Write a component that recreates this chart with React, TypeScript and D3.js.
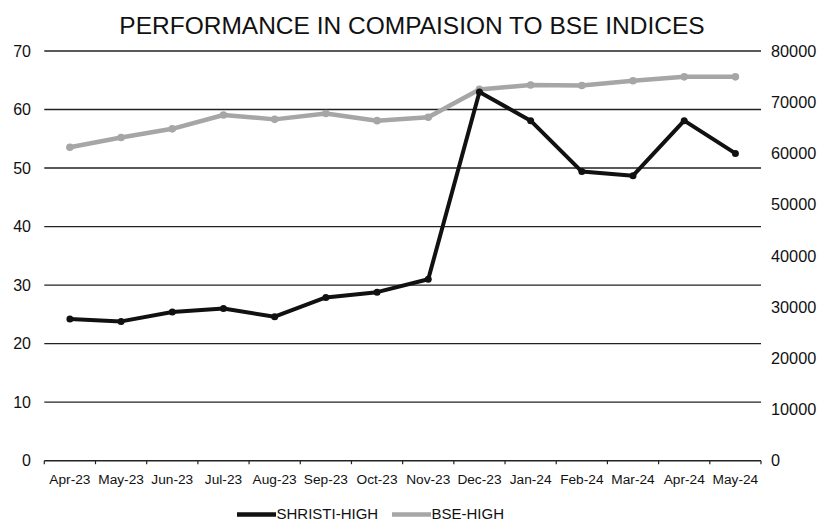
import React, { useRef, useEffect } from "react";
import * as d3 from "d3";

// chart data
const months = [
  "Apr-23", "May-23", "Jun-23", "Jul-23", "Aug-23", "Sep-23", "Oct-23",
  "Nov-23", "Dec-23", "Jan-24", "Feb-24", "Mar-24", "Apr-24", "May-24",
];
const shristiHigh = [24.2, 23.8, 25.4, 26.0, 24.6, 27.9, 28.8, 31.0, 63.0, 58.1, 49.4, 48.7, 58.1, 52.5];
const bseHigh = [61200, 63100, 64800, 67500, 66650, 67800, 66400, 67050, 72500, 73350, 73250, 74200, 74950, 74950];
const leftTicks = [0, 10, 20, 30, 40, 50, 60, 70];
const rightTicks = [0, 10000, 20000, 30000, 40000, 50000, 60000, 70000, 80000];

const W = 822;
const H = 521;
const font = "'Liberation Sans', Arial, sans-serif";

export default function App() {
  const svgRef = useRef<SVGSVGElement>(null);

  useEffect(() => {
    const svg = d3.select(svgRef.current);
    svg.selectAll("*").remove();

    const left = 44.3, right = 761, top = 51, bottom = 460.7;

    const x = d3.scaleBand().domain(months).range([left, right]);
    const yL = d3.scaleLinear().domain([0, 70]).range([bottom, top]);
    const yR = d3.scaleLinear().domain([0, 80000]).range([bottom, top]);

    svg.append("rect").attr("width", W).attr("height", H).attr("fill", "#fff");

    // title
    svg.append("text")
      .attr("x", 412).attr("y", 34)
      .attr("text-anchor", "middle")
      .attr("font-family", font).attr("font-size", 24.5)
      .attr("fill", "#111")
      .text("PERFORMANCE IN COMPAISION TO BSE INDICES");

    // gridlines
    svg.append("g").selectAll("line")
      .data(leftTicks.filter((t) => t > 0))
      .join("line")
      .attr("x1", left).attr("x2", right)
      .attr("y1", (d) => yL(d)).attr("y2", (d) => yL(d))
      .attr("stroke", "#222").attr("stroke-width", 1.4);

    // x axis
    svg.append("line")
      .attr("x1", left).attr("x2", right)
      .attr("y1", bottom).attr("y2", bottom)
      .attr("stroke", "#222").attr("stroke-width", 1.6);
    const tickX = months.map((m) => x(m)!).concat([right]);
    svg.append("g").selectAll("line")
      .data(tickX)
      .join("line")
      .attr("x1", (d) => d).attr("x2", (d) => d)
      .attr("y1", bottom).attr("y2", bottom + 3.5)
      .attr("stroke", "#222").attr("stroke-width", 1.2);

    svg.append("g").selectAll("text")
      .data(months)
      .join("text")
      .attr("x", (d) => x(d)! + x.bandwidth() / 2)
      .attr("y", 484)
      .attr("text-anchor", "middle")
      .attr("font-family", font).attr("font-size", 13.7)
      .attr("fill", "#111")
      .text((d) => d);

    // left axis labels
    svg.append("g").selectAll("text")
      .data(leftTicks)
      .join("text")
      .attr("x", 31).attr("y", (d) => yL(d))
      .attr("dy", "0.35em")
      .attr("text-anchor", "end")
      .attr("font-family", font).attr("font-size", 16)
      .attr("fill", "#111")
      .text((d) => d);

    // right axis labels
    svg.append("g").selectAll("text")
      .data(rightTicks)
      .join("text")
      .attr("x", 771).attr("y", (d) => yR(d))
      .attr("dy", "0.35em")
      .attr("text-anchor", "start")
      .attr("font-family", font).attr("font-size", 16.3)
      .attr("fill", "#111")
      .text((d) => d);

    const cx = (i: number) => x(months[i])! + x.bandwidth() / 2;

    // BSE line (right axis)
    const bseLine = d3.line<number>().x((_, i) => cx(i)).y((d) => yR(d));
    svg.append("path")
      .attr("d", bseLine(bseHigh)!)
      .attr("fill", "none")
      .attr("stroke", "#a6a6a6").attr("stroke-width", 4.5)
      .attr("stroke-linejoin", "round");
    svg.append("g").selectAll("circle")
      .data(bseHigh)
      .join("circle")
      .attr("cx", (_, i) => cx(i)).attr("cy", (d) => yR(d))
      .attr("r", 3.8).attr("fill", "#a6a6a6");

    // SHRISTI line (left axis)
    const shLine = d3.line<number>().x((_, i) => cx(i)).y((d) => yL(d));
    svg.append("path")
      .attr("d", shLine(shristiHigh)!)
      .attr("fill", "none")
      .attr("stroke", "#111").attr("stroke-width", 4)
      .attr("stroke-linejoin", "round");
    svg.append("g").selectAll("circle")
      .data(shristiHigh)
      .join("circle")
      .attr("cx", (_, i) => cx(i)).attr("cy", (d) => yL(d))
      .attr("r", 3.5).attr("fill", "#111");

    // legend
    const legend = [
      { name: "SHRISTI-HIGH", color: "#111", x0: 237 },
      { name: "BSE-HIGH", color: "#a6a6a6", x0: 392 },
    ];
    const lg = svg.append("g").selectAll("g").data(legend).join("g");
    lg.append("line")
      .attr("x1", (d) => d.x0).attr("x2", (d) => d.x0 + 39)
      .attr("y1", 514.5).attr("y2", 514.5)
      .attr("stroke", (d) => d.color).attr("stroke-width", 4.5);
    lg.append("text")
      .attr("x", (d) => d.x0 + 39.5).attr("y", 519)
      .attr("font-family", font).attr("font-size", 15)
      .attr("fill", "#111")
      .text((d) => d.name);
  }, []);

  return (
    <svg
      ref={svgRef}
      width={W}
      height={H}
      style={{ position: "absolute", left: 0, top: 0, display: "block" }}
    />
  );
}
